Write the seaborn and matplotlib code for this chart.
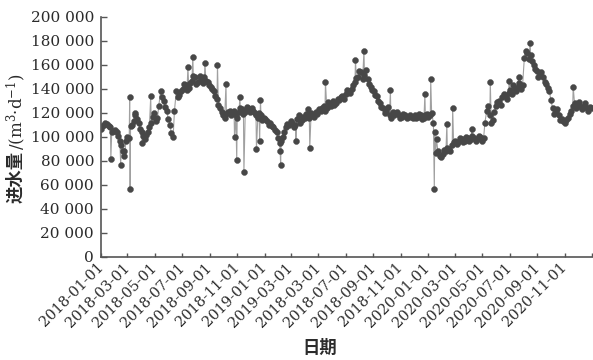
import numpy as np
import pandas as pd
import matplotlib
matplotlib.use("Agg")
import matplotlib.pyplot as plt
import matplotlib.ticker as mticker
import seaborn as sns

# Daily inflow (thousand m3/d): one reading on each Monday from 2018-01-01 ...
week_start = "2018-01-01"
monday_inflow_k = [
    107, 110, 111, 108, 105, 104, 97, 88, 97, 99,
    110, 118, 112, 104, 98, 104, 112, 120, 116, 138,
    130, 122, 110, 100, 138, 135, 140, 143, 141, 147,
    150, 146, 148, 150, 146, 142, 138, 132, 124, 118,
    119, 122, 120, 118, 121, 123, 121, 124, 124, 120,
    116, 118, 116, 113, 112, 108, 104, 95, 100, 108,
    110, 112, 110, 118, 114, 116, 118, 120, 117, 119,
    122, 126, 124, 127, 130, 128, 131, 134, 136, 138,
    140, 146, 150, 154, 152, 148, 142, 138, 134, 128,
    124, 122, 118, 121, 120, 118, 117, 118, 117, 117,
    118, 117, 118, 116, 119, 118, 112, 98, 84, 86,
    88, 90, 93, 97, 96, 98, 97, 99, 98, 99,
    98, 100, 99, 122, 118, 114, 126, 130, 133, 134,
    137, 136, 140, 142, 140, 166, 170, 168, 160, 155,
    152, 150, 144, 138, 124, 121, 118, 115, 112, 116,
    122, 128, 127, 125, 126, 124, 125,
]
# ... and one on each Thursday of the same weeks
thursday_inflow_k = [
    109, 112, 109, 104, 106, 101, 93, 84, 100, 109,
    113, 115, 107, 101, 102, 108, 117, 113, 126, 133,
    125, 115, 103, 122, 133, 138, 144, 139, 145, 151,
    144, 151, 145, 147, 143, 140, 134, 127, 121, 116,
    121, 118, 122, 116, 124, 119, 125, 121, 122, 118,
    120, 114, 115, 110, 109, 106, 99, 97, 104, 111,
    113, 108, 115, 112, 117, 119, 116, 118, 121, 123,
    124, 122, 129, 126, 127, 132, 133, 132, 139, 137,
    143, 149, 155, 148, 156, 144, 139, 135, 130, 125,
    120, 125, 116, 118, 121, 116, 119, 116, 118, 116,
    116, 119, 115, 118, 117, 120, 104, 88, 83, 89,
    91, 88, 96, 94, 99, 96, 100, 97, 101, 97,
    101, 97, 112, 126, 112, 121, 129, 127, 136, 132,
    139, 143, 138, 145, 143, 172, 165, 163, 157, 150,
    154, 146, 141, 131, 119, 123, 114, 113, 114, 119,
    126, 124, 129, 123, 128, 122, 124,
]

# Individual days with unusually high or low inflow
spike_dates = [
    "2018-01-23", "2018-02-14", "2018-02-21", "2018-03-06", "2018-03-07",
    "2018-03-17", "2018-04-03", "2018-04-22", "2018-07-14", "2018-07-25",
    "2018-08-21", "2018-09-18", "2018-10-07", "2018-10-26", "2018-10-31",
    "2018-11-07", "2018-11-16", "2018-12-14", "2018-12-21", "2018-12-23",
    "2019-02-05", "2019-02-06", "2019-03-12", "2019-04-09", "2019-04-12",
    "2019-05-17", "2019-07-23", "2019-08-11", "2019-10-09", "2019-12-25",
    "2020-01-07", "2020-01-15", "2020-01-18", "2020-02-12", "2020-02-25",
    "2020-04-08", "2020-05-19", "2020-06-30", "2020-07-21", "2020-08-16",
    "2020-11-20",
]
spike_inflow_k = [
    82, 77, 88, 133, 57,
    120, 95, 134, 158, 167,
    162, 160, 144, 100, 81,
    133, 71, 90, 97, 131,
    88, 77, 97, 123, 91,
    146, 164, 172, 139, 136,
    148, 57, 87, 111, 124,
    107, 146, 147, 150, 178,
    142,
]

tick_labels = [
    "2018-01-01", "2018-03-01", "2018-05-01", "2018-07-01", "2018-09-01",
    "2018-11-01", "2019-01-01", "2019-03-01", "2018-03-01", "2018-07-01",
    "2018-09-01", "2018-11-01", "2020-01-01", "2020-03-01", "2020-05-01",
    "2020-07-01", "2020-09-01", "2020-11-01", "",
]
y_ticks = list(range(0, 200001, 20000))

sns.set_theme(style="ticks")
plt.rcParams["font.family"] = ["DejaVu Serif"]
plt.rcParams["mathtext.fontset"] = "dejavuserif"

mondays = pd.date_range(week_start, periods=len(monday_inflow_k), freq="7D")
df = pd.concat([
    pd.DataFrame({"date": mondays, "inflow_k": monday_inflow_k}),
    pd.DataFrame({"date": mondays + pd.Timedelta(days=3), "inflow_k": thursday_inflow_k}),
    pd.DataFrame({"date": pd.to_datetime(spike_dates), "inflow_k": spike_inflow_k}),
], ignore_index=True).sort_values("date")
df["inflow"] = df["inflow_k"] * 1000

W, H = 593, 360
fig = plt.figure(figsize=(W / 100, H / 100), dpi=100)
ax = fig.add_axes([101 / W, 1 - 257 / H, 491 / W, 240 / H])

sns.lineplot(
    data=df, x="date", y="inflow", ax=ax,
    estimator=None, errorbar=None, sort=True,
    color="#a0a0a0", linewidth=0.8,
    marker="o", markersize=4.3,
    markerfacecolor="#474747", markeredgecolor="#474747", markeredgewidth=0.3,
)

text_color = "#2b2b2b"
axis_color = "#555555"

ax.set_xlim(pd.Timestamp("2018-01-01"), pd.Timestamp("2021-01-01"))
ax.set_ylim(0, 200000)

tick_dates = pd.date_range("2018-01-01", "2021-01-01", freq="2MS")
ax.set_xticks(tick_dates)
ax.set_xticklabels(tick_labels, rotation=45, ha="right", va="center",
                   rotation_mode="anchor", fontsize=10.5, color=text_color)
ax.set_yticks(y_ticks)
ax.yaxis.set_major_formatter(
    mticker.FuncFormatter(lambda v, p: f"{int(v):,}".replace(",", " ")))
for lab in ax.get_yticklabels():
    lab.set_fontsize(11)
    lab.set_color(text_color)

ax.tick_params(axis="x", direction="in", length=3, width=1.0, color=axis_color, pad=6)
ax.tick_params(axis="y", direction="in", length=4, width=1.0, color=axis_color, pad=5)

sns.despine(ax=ax)
for side in ("left", "bottom"):
    ax.spines[side].set_color(axis_color)
    ax.spines[side].set_linewidth(1.2)

ax.set_xlabel("")
ax.set_ylabel("")

# Axis titles
fig.text(15 / W, 1 - 203 / H, "进水量", rotation=90, ha="center", va="bottom",
         family=["Noto Sans CJK SC"], fontweight="bold", fontsize=12.5, color=text_color)
fig.text(16 / W, 1 - 150 / H, r"/(m$^{3}$·d$^{-1}$)", rotation=90, ha="center", va="bottom",
         fontsize=12, color=text_color)
fig.text(320 / W, 1 - 348 / H, "日期", ha="center", va="center",
         family=["Noto Sans CJK SC"], fontweight="bold", fontsize=12.5, color=text_color)

fig.savefig("out.png", dpi=100, facecolor="white")
